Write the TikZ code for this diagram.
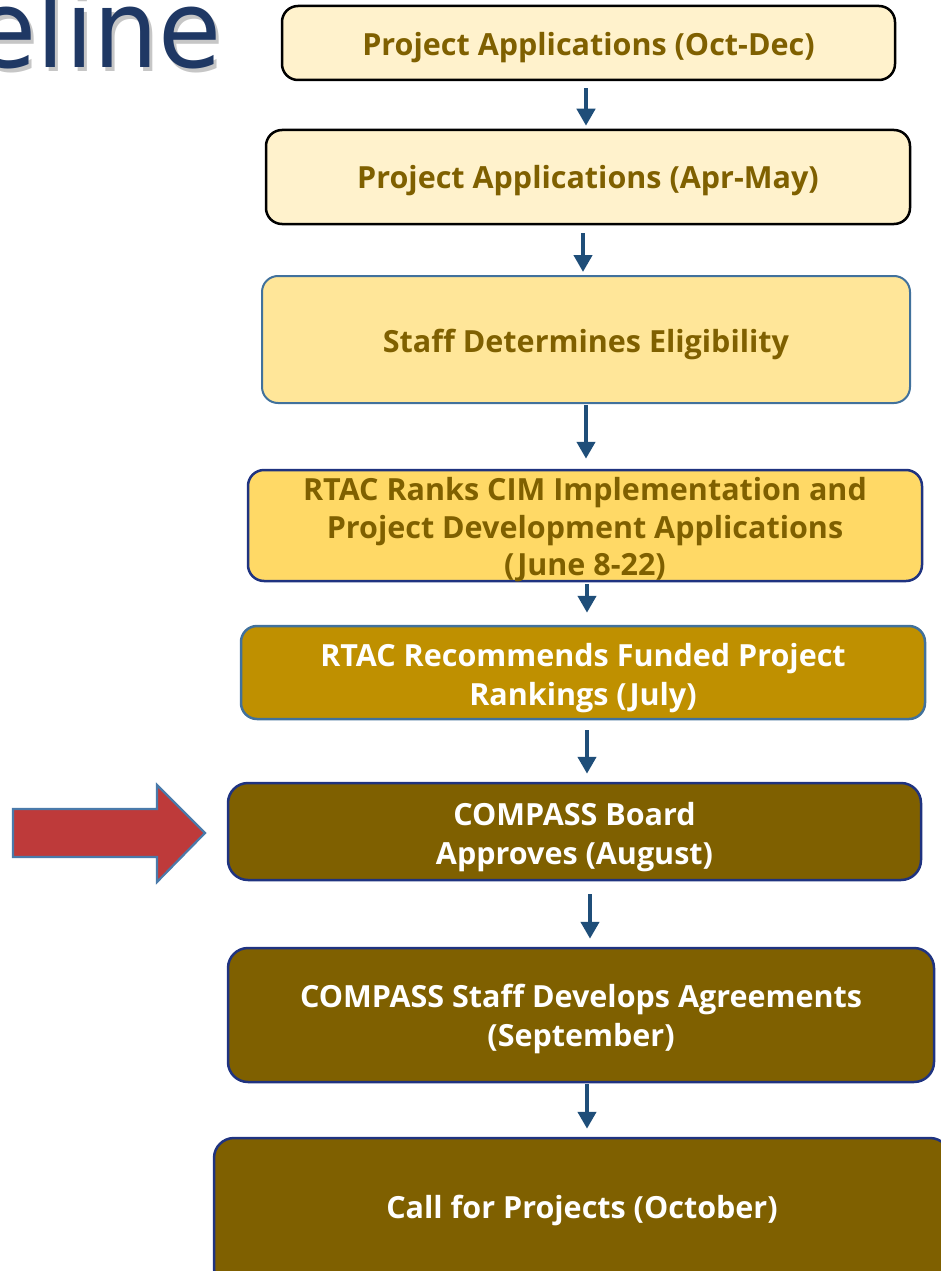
\documentclass[tikz,border=0pt]{standalone}
\usepackage{fontspec}
\usetikzlibrary{arrows.meta}
\newfontfamily\boxfont{Open Sans}
\newfontfamily\titlefont{DejaVu Sans}[FakeStretch=0.95]
\definecolor{txtgold}{HTML}{7F6000}
\definecolor{fillA}{HTML}{FFF2CC}
\definecolor{fillB}{HTML}{FFE699}
\definecolor{fillC}{HTML}{FFD966}
\definecolor{fillD}{HTML}{BF9000}
\definecolor{fillE}{HTML}{7F6000}
\definecolor{steel}{HTML}{41719C}
\definecolor{navy}{HTML}{1F3380}
\definecolor{arrowblue}{HTML}{1F4E79}
\definecolor{titleblue}{HTML}{1F3864}
\definecolor{redarrow}{HTML}{BE3A3A}
\definecolor{redborder}{HTML}{4A7AAA}
\tikzset{
  boxtext/.style={inner sep=0pt, align=center, font=\boxfont\bfseries\fontsize{30.5}{38.5}\selectfont},
  darktext/.style={boxtext, text=txtgold},
  lighttext/.style={boxtext, text=white},
  stepbox/.style={rounded corners=16pt, inner sep=0pt},
  lightbox/.style={stepbox, fill=fillA, draw=black, line width=2.5pt},
  midbox/.style={stepbox, fill=fillB, draw=steel, line width=2pt},
  goldbox/.style={stepbox, fill=fillC, draw=navy, line width=2.5pt},
  ochrebox/.style={stepbox, fill=fillD, draw=steel, line width=2.5pt},
  darkbox/.style={stepbox, fill=fillE, draw=navy, line width=2.5pt, rounded corners=20pt},
  conn/.style={draw=arrowblue, line width=4.5pt, -{Triangle[width=18pt,length=17pt]}},
  titletext/.style={anchor=base east, inner sep=0pt, font=\titlefont\fontsize{108}{114}\selectfont},
}
\begin{document}
\begin{tikzpicture}[x=1pt,y=-1pt]
\useasboundingbox (0,0) rectangle (941,1271);
\clip (0,0) rectangle (941,1271);

% title fragment
\node[titletext, text=gray!45] (tshadow) at (225,72) {eline};
\node[titletext, text=titleblue] (title) at (222,68) {eline};

% boxes
\node[lightbox, minimum width=613pt, minimum height=74pt] (b1) at (588.5,43) {};
\node[lightbox, minimum width=644pt, minimum height=94pt] (b2) at (588,177) {};
\node[midbox, minimum width=648pt, minimum height=127pt] (b3) at (586,339.5) {};
\node[goldbox, minimum width=674pt, minimum height=111pt] (b4) at (585,525.5) {};
\node[ochrebox, minimum width=684pt, minimum height=93pt] (b5) at (583,672.5) {};
\node[darkbox, minimum width=693pt, minimum height=97pt] (b6) at (574.5,831.5) {};
\node[darkbox, minimum width=706pt, minimum height=134pt] (b7) at (581,1015) {};
\node[darkbox, minimum width=736pt, minimum height=150pt] (b8) at (582,1213) {};

% texts
\node[darktext] (t1) at (588.5,48) {Project Applications (Oct-Dec)};
\node[darktext] (t2) at (588,181) {Project Applications (Apr-May)};
\node[darktext] (t3) at (586,344) {Staff Determines Eligibility};
\node[darktext, font=\boxfont\bfseries\fontsize{30.5}{37.5}\selectfont] (t4) at (585,530)
  {RTAC Ranks CIM Implementation and\\Project Development Applications\\(June 8-22)};
\node[lighttext] (t5) at (583,678) {RTAC Recommends Funded Project\\Rankings (July)};
\node[lighttext] (t6) at (574.5,837) {COMPASS Board\\Approves (August)};
\node[lighttext] (t7) at (581,1019) {COMPASS Staff Develops Agreements\\(September)};
\node[lighttext] (t8) at (582,1210) {Call for Projects (October)};

% connectors
\draw[conn, shorten <=7pt, shorten >=3pt] (b1.south -| 586,0) -- (b2.north -| 586,0);
\draw[conn, shorten <=8pt, shorten >=3pt] (b2.south -| 583,0) -- (b3.north -| 583,0);
\draw[conn, shorten <=1pt, shorten >=10pt] (b3.south -| 586,0) -- (b4.north -| 586,0);
\draw[conn, shorten <=2pt, shorten >=12pt] (b4.south -| 587,0) -- (b5.north -| 587,0);
\draw[conn, shorten <=10pt, shorten >=8pt] (b5.south -| 587,0) -- (b6.north -| 587,0);
\draw[conn, shorten <=13pt, shorten >=8pt] (b6.south -| 590,0) -- (b7.north -| 590,0);
\draw[conn, shorten <=1pt, shorten >=8pt] (b7.south -| 587,0) -- (b8.north -| 587,0);

% red block arrow
\draw[fill=redarrow, draw=redborder, line width=2.2pt, line join=miter]
  (13,809) -- (157,809) -- (157,785) -- (205,833) -- (157,882) -- (157,857) -- (13,857) -- cycle;
\end{tikzpicture}
\end{document}
